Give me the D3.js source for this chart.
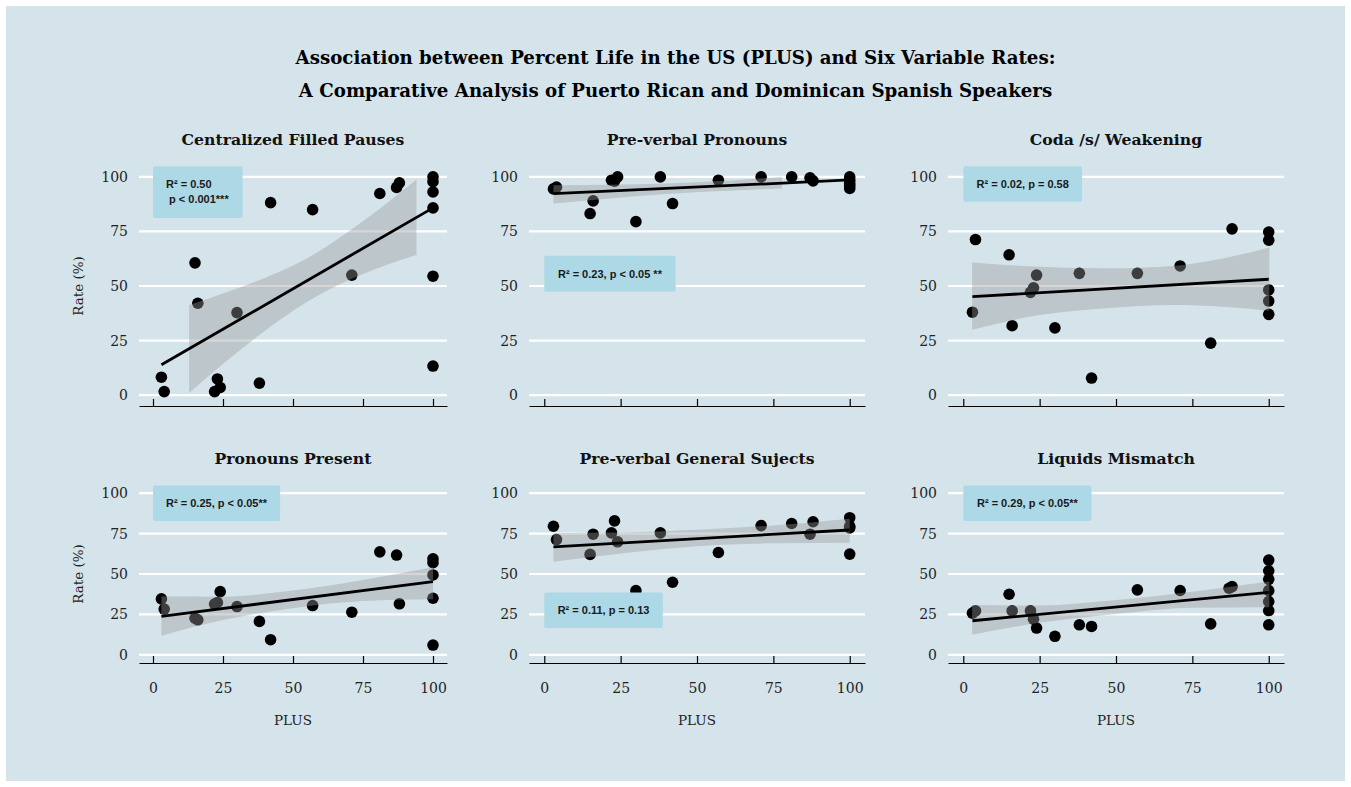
<!DOCTYPE html>
<html>
<head>
<meta charset="utf-8">
<script src="https://cdn.jsdelivr.net/npm/d3@7"></script>
<style>
  body { margin: 0; background: #fff; }
</style>
</head>
<body>
<div id="chart"></div>
<script>
// PLUS values, one array per panel
const filledX = [3, 4, 15, 16, 22, 23, 24, 30, 38, 42, 57, 71, 81, 87, 88, 100, 100, 100, 100, 100, 100];
const filledY = [8.2, 1.6, 60.6, 42.1, 1.6, 7.4, 3.5, 37.8, 5.5, 88.2, 85.0, 55.0, 92.4, 95.2, 97.3, 100, 97.8, 93.1, 85.8, 54.5, 13.3];

const preProX = [3, 4, 15, 16, 22, 23, 24, 30, 38, 42, 57, 71, 81, 87, 88, 100, 100, 100, 100, 100];
const preProY = [94.5, 95.3, 83.2, 89.0, 98.5, 98.0, 100, 79.5, 100, 87.8, 98.5, 100, 100, 99.6, 98.2, 100, 98.5, 97.0, 96.0, 94.7];

const codaX = [3, 4, 15, 16, 22, 23, 24, 30, 38, 42, 57, 71, 81, 88, 100, 100, 100, 100, 100];
const codaY = [38.0, 71.3, 64.3, 31.8, 47.1, 49.2, 55.0, 30.8, 55.8, 7.8, 55.8, 59.2, 23.8, 76.2, 74.7, 71.0, 48.2, 43.1, 37.0];

const pronX = [3, 4, 15, 16, 22, 23, 24, 30, 38, 42, 57, 71, 81, 87, 88, 100, 100, 100, 100, 100];
const pronY = [34.6, 28.3, 22.7, 21.7, 31.4, 32.4, 39.1, 29.9, 20.7, 9.4, 30.5, 26.4, 63.7, 61.7, 31.6, 59.4, 57.0, 49.4, 35.0, 6.1];

const genX = [3, 4, 15, 16, 22, 23, 24, 30, 38, 42, 57, 71, 81, 87, 88, 100, 100, 100, 100];
const genY = [79.5, 71.3, 62.1, 74.6, 75.4, 82.8, 69.9, 39.7, 75.4, 44.9, 63.3, 79.9, 81.2, 74.6, 82.3, 84.8, 79.5, 78.5, 62.3];

const liqX = [3, 4, 15, 16, 22, 23, 24, 30, 38, 42, 57, 71, 81, 87, 88, 100, 100, 100, 100, 100, 100, 100];
const liqY = [25.8, 27.2, 37.5, 27.2, 27.2, 22.1, 16.6, 11.5, 18.6, 17.6, 40.2, 39.8, 19.2, 41.2, 42.2, 58.6, 52.0, 46.7, 39.7, 33.0, 27.4, 18.6];

// fitted lines [x, y] and confidence band samples
const filledFit = [[3, 13.9], [100, 85.8]];
const filledBandX = [12.9, 30, 45, 57.5, 75, 94.1];
const filledBandLo = [1.0, 19.5, 34.2, 44.6, 55.5, 64.2];
const filledBandHi = [41.3, 48.9, 56.4, 64.6, 79.7, 98.8];

const preProFit = [[3, 92.3], [100, 98.6]];
const preProBandX = [3, 40, 77.8];
const preProBandLo = [87.8, 92.2, 94.7];
const preProBandHi = [96.2, 97.0, 100.0];

const codaFit = [[3, 45.1], [100, 53.1]];
const codaBandX = [2.9, 25.1, 46.9, 68.8, 85.2, 100.2];
const codaBandLo = [29.9, 36.7, 39.8, 41.3, 40.5, 38.6];
const codaBandHi = [60.8, 58.8, 58.1, 59.2, 62.7, 67.7];

const pronFit = [[3, 23.8], [100, 45.3]];
const pronBandX = [3, 25, 50, 75, 100];
const pronBandLo = [11.9, 21.5, 28.9, 33.3, 34.4];
const pronBandHi = [36.1, 36.0, 39.8, 46.3, 54.1];

const genFit = [[3, 66.8], [100, 77.2]];
const genBandX = [3, 25, 50, 75, 100];
const genBandLo = [57.6, 62.7, 67.2, 69.0, 69.3];
const genBandHi = [75.4, 75.7, 77.4, 80.0, 84.2];

const liqFit = [[3, 21.1], [100, 38.7]];
const liqBandX = [2.9, 25, 50, 75, 100.2];
const liqBandLo = [12.5, 19.8, 25.3, 29.2, 29.5];
const liqBandHi = [30.9, 30.5, 33.9, 39.0, 45.3];

const titles = ['Centralized Filled Pauses', 'Pre-verbal Pronouns', 'Coda /s/ Weakening',
  'Pronouns Present', 'Pre-verbal General Sujects', 'Liquids Mismatch'];
const statLabels = [['R\u00b2 = 0.50', ' p < 0.001***'], ['R\u00b2 = 0.23, p < 0.05 **'], ['R\u00b2 = 0.02, p = 0.58'],
  ['R\u00b2 = 0.25, p < 0.05**'], ['R\u00b2 = 0.11, p = 0.13'], ['R\u00b2 = 0.29, p < 0.05**']];
// label boxes [xmin, xmax, ymin, ymax] in data units
const statBoxes = [[0, 32, 81.2, 104.9], [0, 43, 47.4, 63.9], [0, 38.9, 88.6, 104.9],
  [0, 45.4, 82.8, 104.7], [0, 38.8, 16.6, 38.5], [0, 42, 82.8, 104.7]];
const yTicks = [0, 25, 50, 75, 100];
const xTicks = [0, 25, 50, 75, 100];

const panels = [
  {x: filledX, y: filledY, fit: filledFit, bx: filledBandX, lo: filledBandLo, hi: filledBandHi},
  {x: preProX, y: preProY, fit: preProFit, bx: preProBandX, lo: preProBandLo, hi: preProBandHi},
  {x: codaX, y: codaY, fit: codaFit, bx: codaBandX, lo: codaBandLo, hi: codaBandHi},
  {x: pronX, y: pronY, fit: pronFit, bx: pronBandX, lo: pronBandLo, hi: pronBandHi},
  {x: genX, y: genY, fit: genFit, bx: genBandX, lo: genBandLo, hi: genBandHi},
  {x: liqX, y: liqY, fit: liqFit, bx: liqBandX, lo: liqBandLo, hi: liqBandHi}
];

const W = 1351, H = 787;
const serif = '"DejaVu Serif", serif';
const sans = '"Liberation Sans", Arial, sans-serif';
const cols = [[139, 447], [529, 865], [948, 1284]];
const rows = [[166, 406], [485, 663]];

const svg = d3.select('#chart').append('svg')
  .attr('width', W).attr('height', H);

svg.append('rect')
  .attr('x', 6).attr('y', 6).attr('width', W - 12).attr('height', H - 12)
  .attr('fill', '#d5e4eb');

svg.append('text')
  .attr('x', W / 2).attr('y', 64)
  .attr('text-anchor', 'middle')
  .attr('font-family', serif)
  .attr('font-size', 18.2).attr('font-weight', 'bold')
  .text('Association between Percent Life in the US (PLUS) and Six Variable Rates:');
svg.append('text')
  .attr('x', W / 2).attr('y', 97)
  .attr('text-anchor', 'middle')
  .attr('font-family', serif)
  .attr('font-size', 18.2).attr('font-weight', 'bold')
  .text('A Comparative Analysis of Puerto Rican and Dominican Spanish Speakers');

panels.forEach((p, i) => {
  const col = i % 3, row = Math.floor(i / 3);
  const [x0, x1] = cols[col];
  const [y0, y1] = rows[row];

  const xs = d3.scaleLinear().domain([-5, 105]).range([x0, x1]);
  const ys = d3.scaleLinear().domain([-5, 105]).range([y1, y0]);

  const g = svg.append('g');

  // grid
  g.selectAll('.grid')
    .data(yTicks)
    .enter()
    .append('line')
    .attr('x1', x0).attr('x2', x1)
    .attr('y1', d => ys(d)).attr('y2', d => ys(d))
    .attr('stroke', '#fff').attr('stroke-width', 2.2);

  // y axis labels
  const yAxis = d3.axisLeft(ys).tickValues(yTicks).tickSize(0).tickPadding(11);
  const ya = g.append('g').attr('transform', 'translate(' + x0 + ',0)').call(yAxis);
  ya.select('.domain').remove();
  ya.selectAll('text').attr('font-family', serif).attr('font-size', 14).attr('fill', '#222');

  // x axis
  const xAxis = d3.axisBottom(xs).tickValues(xTicks).tickSizeInner(-7).tickSizeOuter(0).tickPadding(20);
  if (row === 0) xAxis.tickFormat('');
  const xa = g.append('g').attr('transform', 'translate(0,' + y1 + ')').call(xAxis);
  xa.select('.domain').attr('stroke', '#000').attr('stroke-width', 1.2);
  xa.selectAll('.tick line').attr('stroke', '#000').attr('stroke-width', 1.2);
  xa.selectAll('text').attr('font-family', serif).attr('font-size', 14).attr('fill', '#222');

  // points
  g.selectAll('.pt')
    .data(p.x.map((v, k) => [v, p.y[k]]))
    .enter()
    .append('circle')
    .attr('cx', d => xs(d[0]))
    .attr('cy', d => ys(d[1]))
    .attr('r', 5.8)
    .attr('fill', '#000');

  // confidence band
  const area = d3.area()
    .x(d => xs(d[0]))
    .y0(d => ys(d[1]))
    .y1(d => ys(d[2]))
    .curve(d3.curveMonotoneX);
  g.append('path')
    .datum(p.bx.map((v, k) => [v, p.lo[k], p.hi[k]]))
    .attr('d', area)
    .attr('fill', '#999999')
    .attr('fill-opacity', 0.4);

  // fitted line
  const line = d3.line().x(d => xs(d[0])).y(d => ys(d[1]));
  g.append('path')
    .datum(p.fit)
    .attr('d', line)
    .attr('stroke', '#000')
    .attr('stroke-width', 2.8)
    .attr('fill', 'none');

  // stat label
  const b = statBoxes[i];
  const bx0 = xs(b[0]), bx1 = xs(b[1]), by0 = ys(b[3]), by1 = ys(b[2]);
  g.append('rect')
    .attr('x', bx0).attr('y', by0)
    .attr('width', bx1 - bx0).attr('height', by1 - by0)
    .attr('rx', 2)
    .attr('fill', '#add8e6');
  const lines = statLabels[i];
  if (lines.length === 1) {
    g.append('text')
      .attr('x', (bx0 + bx1) / 2).attr('y', (by0 + by1) / 2 + 4)
      .attr('text-anchor', 'middle')
      .attr('font-family', sans)
      .attr('font-weight', 'bold').attr('font-size', 11)
      .attr('fill', '#1a1a1a')
      .text(lines[0]);
  } else {
    lines.forEach((t, k) => {
      g.append('text')
        .attr('x', bx0 + 13).attr('y', by0 + 21.5 + k * 15.5)
        .attr('font-family', sans)
        .attr('font-weight', 'bold').attr('font-size', 11)
        .attr('fill', '#1a1a1a')
        .style('white-space', 'pre')
        .text(t);
    });
  }

  // panel title
  g.append('text')
    .attr('x', (x0 + x1) / 2).attr('y', y0 - 21)
    .attr('text-anchor', 'middle')
    .attr('font-family', serif)
    .attr('font-size', 15.7).attr('font-weight', 'bold')
    .attr('fill', '#111')
    .text(titles[i]);

  if (col === 0) {
    g.append('text')
      .attr('transform', 'translate(83,' + ((y0 + y1) / 2) + ') rotate(-90)')
      .attr('text-anchor', 'middle')
      .attr('font-family', serif)
      .attr('font-size', 13.5).attr('fill', '#222')
      .text('Rate (%)');
  }
  if (row === 1) {
    g.append('text')
      .attr('x', (x0 + x1) / 2).attr('y', 725)
      .attr('text-anchor', 'middle')
      .attr('font-family', serif)
      .attr('font-size', 13.5).attr('fill', '#222')
      .text('PLUS');
  }
});
</script>
</body>
</html>
